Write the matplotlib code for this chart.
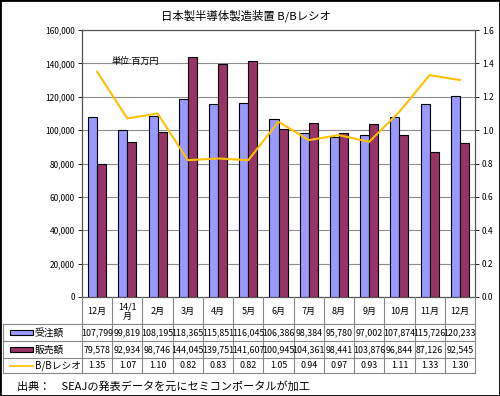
import matplotlib
matplotlib.use("Agg")
from matplotlib import pyplot as plt
from matplotlib import transforms
from matplotlib.lines import Line2D
from matplotlib.patches import Rectangle

plt.rcParams['font.family'] = ['Noto Sans CJK JP', 'DejaVu Sans']

months = ["12月", "14/1\n月", "2月", "3月", "4月", "5月", "6月", "7月", "8月", "9月", "10月", "11月", "12月"]
orders = [107799, 99819, 108195, 118365, 115851, 116045, 106386, 98384, 95780, 97002, 107874, 115726, 120233]
sales = [79578, 92934, 98746, 144045, 139751, 141607, 100945, 104361, 98441, 103876, 96844, 87126, 92545]
bb = [1.35, 1.07, 1.10, 0.82, 0.83, 0.82, 1.05, 0.94, 0.97, 0.93, 1.11, 1.33, 1.30]
row_names = ["受注額", "販売額", "B/Bレシオ"]

blue = "#9999FF"
red = "#993366"
gold = "#FFC000"

W, H = 500, 396
fig = plt.figure(figsize=(W / 100, H / 100), dpi=100)

def fx(px):
    return px / W

def fy(py):
    return 1 - py / H

left, right, top, bottom = 82, 475, 30, 297
ax = fig.add_axes([fx(left), fy(bottom), fx(right) - fx(left), fy(top) - fy(bottom)])
ax2 = ax.twinx()

x = list(range(len(months)))
bw = 0.3
ax.bar([i - bw / 2 for i in x], orders, bw, color=blue, edgecolor="black", linewidth=0.8, zorder=3)
ax.bar([i + bw / 2 for i in x], sales, bw, color=red, edgecolor="black", linewidth=0.8, zorder=3)
ax2.plot(x, bb, color=gold, linewidth=1.5, zorder=4)

ax.set_xlim(-0.5, len(months) - 0.5)
ax.set_ylim(0, 160000)
ax2.set_ylim(0, 1.6)
ax.set_yticks(range(0, 160001, 20000))
ax.set_yticklabels([f"{v:,}" for v in range(0, 160001, 20000)], fontsize=6)
ax2.set_yticks([i / 10 for i in range(0, 17, 2)])
ax2.set_yticklabels([f"{i / 10:.1f}" for i in range(0, 17, 2)], fontsize=6)
ax.set_xticks([])
ax.grid(axis="y", color="#8c8c8c", linewidth=0.8, zorder=0)
ax.tick_params(axis="y", length=3, width=0.6, pad=2, colors="black")
ax2.tick_params(axis="y", length=3, width=0.6, pad=2, colors="black")
for a in (ax, ax2):
    for s in a.spines.values():
        s.set_color("#555555")
        s.set_linewidth(0.8)
ax.spines["left"].set_color("black")

ax.text(0.48, 141000, "単位:百万円", fontsize=6.5, ha="left", va="center", zorder=5)

fig.text(0.492, fy(16), "日本製半導体製造装置 B/Bレシオ", fontsize=8.2, ha="center", va="center")

# data table below the chart
tr = transforms.blended_transform_factory(ax.transData, fig.transFigure)
row_y = [bottom, 324, 341, 358, 373]
lc = "#888888"
n = len(months)
for i in range(n + 1):
    fig.add_artist(Line2D([i - 0.5, i - 0.5], [fy(row_y[0]), fy(row_y[-1])], transform=tr, color=lc, linewidth=0.8))
for yy in row_y[1:]:
    fig.add_artist(Line2D([fx(3), fx(right)], [fy(yy), fy(yy)], color=lc, linewidth=0.8))
fig.add_artist(Line2D([fx(3), fx(3)], [fy(row_y[1]), fy(row_y[-1])], color=lc, linewidth=0.8))

for i, m in enumerate(months):
    fig.text(i, fy((row_y[0] + row_y[1]) / 2 + 1), m, transform=tr, fontsize=6.5, ha="center", va="center", linespacing=1.1)
    fig.text(i, fy((row_y[1] + row_y[2]) / 2), f"{orders[i]:,}", transform=tr, fontsize=6.4, ha="center", va="center")
    fig.text(i, fy((row_y[2] + row_y[3]) / 2), f"{sales[i]:,}", transform=tr, fontsize=6.4, ha="center", va="center")
    fig.text(i, fy((row_y[3] + row_y[4]) / 2), f"{bb[i]:.2f}", transform=tr, fontsize=6.4, ha="center", va="center")

# row labels with legend keys
for k, (name, col) in enumerate(zip(row_names, [blue, red, gold])):
    yc = (row_y[k + 1] + row_y[k + 2]) / 2
    if k < 2:
        fig.add_artist(Rectangle((fx(10), fy(yc + 2.5)), fx(23), fy(0) - fy(5), facecolor=col, edgecolor="black", linewidth=0.8))
    else:
        fig.add_artist(Line2D([fx(10), fx(33)], [fy(yc), fy(yc)], color=col, linewidth=1.2))
    fig.text(fx(35), fy(yc), name, fontsize=7, ha="left", va="center")

fig.text(fx(17), fy(386), "出典：　SEAJの発表データを元にセミコンポータルが加工", fontsize=8, ha="left", va="center")

fig.add_artist(Rectangle((0, 0), 1, 1, transform=fig.transFigure, fill=False, edgecolor="black", linewidth=2))

fig.savefig("out.png", dpi=100)
